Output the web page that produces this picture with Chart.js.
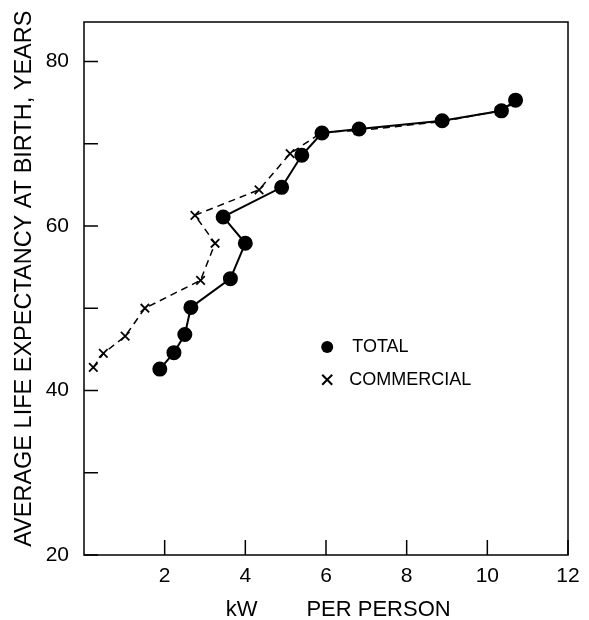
<!DOCTYPE html>
<html>
<head>
<meta charset="utf-8">
<script src="https://cdn.jsdelivr.net/npm/chart.js@4.4.0/dist/chart.umd.min.js"></script>
<style>
  html, body { margin: 0; padding: 0; background: #fff; }
  #wrap { position: relative; width: 589px; height: 620px; }
</style>
</head>
<body>
<div id="wrap"><canvas id="lifeChart" width="589" height="620"></canvas></div>
<script>
// 총 에너지 (TOTAL)
const totalKw = [1.88, 2.23, 2.50, 2.65, 3.63, 4.00, 3.45, 4.90, 5.40, 5.90, 6.82, 8.88, 10.35, 10.70];
const totalLife = [42.6, 44.6, 46.8, 50.1, 53.6, 57.9, 61.1, 64.7, 68.6, 71.3, 71.8, 72.8, 74.0, 75.3];

// 상업용 에너지 (COMMERCIAL)
const commKw = [0.23, 0.48, 1.02, 1.51, 2.89, 3.25, 2.75, 4.34, 5.11, 5.90, 6.80, 8.88, 10.30, 10.65];
const commLife = [42.8, 44.5, 46.6, 50.0, 53.4, 57.9, 61.3, 64.4, 68.8, 71.4, 71.6, 72.7, 74.0, 75.1];

const xTicks = [2, 4, 6, 8, 10, 12];
const yTicks = [20, 30, 40, 50, 60, 70, 80];
const yLabels = [20, 40, 60, 80];

const FONT = "'Liberation Sans', Arial, sans-serif";

function toPoints(xs, ys) {
  return xs.map((x, i) => ({ x: x, y: ys[i] }));
}

// 박스, 안쪽 눈금, 범례 그리기
const framePlugin = {
  id: 'frame',
  afterDraw(chart) {
    const ctx = chart.ctx;
    const a = chart.chartArea;
    const xs = chart.scales.x;
    const ys = chart.scales.y;
    ctx.save();
    ctx.strokeStyle = '#000';
    ctx.lineWidth = 1.5;
    ctx.strokeRect(a.left, a.top, a.right - a.left, a.bottom - a.top);

    ctx.beginPath();
    xTicks.forEach(v => {
      const px = xs.getPixelForValue(v);
      ctx.moveTo(px, a.bottom);
      ctx.lineTo(px, a.bottom - 15);
    });
    yTicks.forEach(v => {
      const py = ys.getPixelForValue(v);
      ctx.moveTo(a.left, py);
      ctx.lineTo(a.left + 14, py);
    });
    ctx.stroke();

    // 범례
    const lx = xs.getPixelForValue(6.03);
    const ly1 = ys.getPixelForValue(45.3);
    const ly2 = ys.getPixelForValue(41.3);
    ctx.fillStyle = '#000';
    ctx.beginPath();
    ctx.arc(lx, ly1, 6, 0, Math.PI * 2);
    ctx.fill();
    ctx.lineWidth = 2;
    ctx.beginPath();
    ctx.moveTo(lx - 5, ly2 - 5); ctx.lineTo(lx + 5, ly2 + 5);
    ctx.moveTo(lx + 5, ly2 - 5); ctx.lineTo(lx - 5, ly2 + 5);
    ctx.stroke();
    ctx.font = '18px ' + FONT;
    ctx.textBaseline = 'middle';
    ctx.textAlign = 'left';
    ctx.fillText('TOTAL', lx + 25, ly1);
    ctx.fillText('COMMERCIAL', lx + 22, ly2);
    ctx.restore();
  }
};

const ctx = document.getElementById('lifeChart').getContext('2d');
const lifeChart = new Chart(ctx, {
  type: 'scatter',
  data: {
    datasets: [{
      label: 'TOTAL',
      data: toPoints(totalKw, totalLife),
      showLine: true,
      borderColor: '#000',
      backgroundColor: '#000',
      borderWidth: 2,
      pointRadius: 6.5,
      pointStyle: 'circle'
    }, {
      label: 'COMMERCIAL',
      data: toPoints(commKw, commLife),
      showLine: true,
      borderColor: '#000',
      backgroundColor: '#000',
      borderWidth: 1.5,
      borderDash: [7, 5],
      pointRadius: 6,
      pointBorderWidth: 1.8,
      pointStyle: 'crossRot'
    }]
  },
  options: {
    responsive: false,
    animation: false,
    layout: { padding: { left: 0, right: 21, top: 22, bottom: 0 } },
    plugins: {
      legend: { display: false },
      tooltip: { enabled: false }
    },
    scales: {
      x: {
        type: 'linear',
        min: 0,
        max: 12,
        afterFit: s => { s.height = 65; },
        afterBuildTicks: s => { s.ticks = xTicks.map(v => ({ value: v })); },
        grid: { display: false },
        border: { display: false },
        ticks: { color: '#000', font: { family: FONT, size: 21 }, padding: 1 },
        title: {
          display: true,
          text: '    kW        PER PERSON',
          color: '#000',
          font: { family: FONT, size: 22 },
          padding: { top: 0, bottom: -3 }
        }
      },
      y: {
        type: 'linear',
        min: 20,
        max: 84.8,
        afterFit: s => { s.width = 84; },
        afterBuildTicks: s => { s.ticks = yLabels.map(v => ({ value: v })); },
        grid: { display: false },
        border: { display: false },
        ticks: { color: '#000', font: { family: FONT, size: 21 }, padding: 7 },
        title: {
          display: true,
          text: '   AVERAGE LIFE EXPECTANCY AT BIRTH, YEARS',
          color: '#000',
          font: { family: FONT, size: 23.5 },
          padding: { top: 10, bottom: 0 }
        }
      }
    }
  },
  plugins: [framePlugin]
});
</script>
</body>
</html>
